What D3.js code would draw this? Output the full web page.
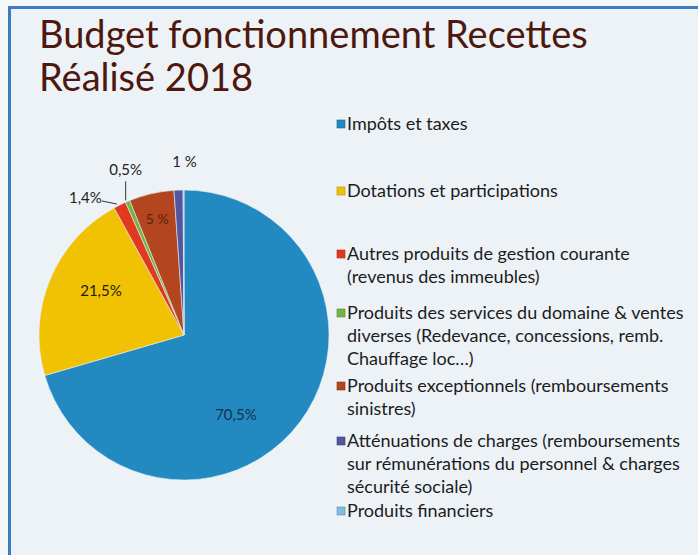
<!DOCTYPE html>
<html>
<head>
<meta charset="utf-8">
<script src="https://cdn.jsdelivr.net/npm/d3@7"></script>
<style>
  body { margin: 0; background: #f4f6f8; }
  svg { display: block; }
</style>
</head>
<body>
<div id="chart"></div>
<script>
// data
const categories = [
    "Impôts et taxes",
    "Dotations et participations",
    "Autres produits de gestion courante",
    "Produits des services du domaine & ventes",
    "Produits exceptionnels",
    "Atténuations de charges",
    "Produits financiers"
];
const values = [70.5, 21.5, 1.4, 0.5, 5, 1, 0.1];
const sliceLabels = ["70,5%", "21,5%", "1,4%", "0,5%", "5 %", "1 %", ""];
const colors = ["#2389c1", "#f1c103", "#e1391f", "#72b443", "#b3451f", "#55559f", "#7cbde0"];
const legendLines = [
    ["Impôts et taxes"],
    ["Dotations et participations"],
    ["Autres produits de gestion courante", "(revenus des immeubles)"],
    ["Produits des services du domaine & ventes", "diverses (Redevance, concessions, remb.", "Chauffage loc…)"],
    ["Produits exceptionnels (remboursements", "sinistres)"],
    ["Atténuations de charges (remboursements", "sur rémunérations du personnel & charges", "sécurité sociale)"],
    ["Produits financiers"]
];
const legendTop = [130, 197, 260, 319, 392, 447, 517];

const W = 698, H = 555;
const svg = d3.select("#chart").append("svg")
    .attr("width", W)
    .attr("height", H);

// frame + background
svg.append("rect").attr("x", 9).attr("y", 7).attr("width", W - 9).attr("height", H - 7)
    .attr("fill", "#edf2f7");
svg.append("line").attr("x1", 8).attr("x2", W).attr("y1", 7.5).attr("y2", 7.5)
    .attr("stroke", "#3b7cc3").attr("stroke-width", 3);
svg.append("line").attr("x1", 9.5).attr("x2", 9.5).attr("y1", 6).attr("y2", H)
    .attr("stroke", "#3b7cc3").attr("stroke-width", 3);

// title
const title = svg.append("text")
    .attr("font-family", "Lato, 'Open Sans', sans-serif")
    .attr("font-size", 38)
    .attr("fill", "#4e180e");
title.append("tspan").attr("x", 39).attr("y", 48).text("Budget fonctionnement Recettes");
title.append("tspan").attr("x", 39).attr("y", 91).text("Réalisé 2018");

// pie
const cx = 184, cy = 335, r = 145;
const pie = d3.pie().sort(null).value(d => d);
const arcs = pie(values);
const arc = d3.arc().innerRadius(0).outerRadius(r);

const g = svg.append("g").attr("transform", `translate(${cx},${cy})`);
g.selectAll("path")
    .data(arcs)
    .join("path")
    .attr("d", arc)
    .attr("fill", (d, i) => colors[i])
    .attr("stroke", "#e8eef4")
    .attr("stroke-width", 0.6);

// slice labels (inside for big ones, outside with leaders for small ones)
const labelFont = "Lato, 'Open Sans', sans-serif";
const inner = d3.arc().innerRadius(r * 0.62).outerRadius(r * 0.62);
const innerSmall = d3.arc().innerRadius(r * 0.82).outerRadius(r * 0.82);

// 70,5%
g.append("text")
    .attr("transform", () => {
        const c = inner.centroid(arcs[0]);
        return `translate(${c[0] - 20},${c[1] + 26})`;
    })
    .attr("text-anchor", "middle").attr("dy", "0.35em")
    .attr("font-family", labelFont).attr("font-size", 15)
    .attr("fill", "#17304d").text(sliceLabels[0]);

// 21,5%
g.append("text")
    .attr("transform", () => {
        const c = inner.centroid(arcs[1]);
        return `translate(${c[0]},${c[1] - 10})`;
    })
    .attr("text-anchor", "middle").attr("dy", "0.35em")
    .attr("font-family", labelFont).attr("font-size", 15)
    .attr("fill", "#221d0c").text(sliceLabels[1]);

// 5 %
g.append("text")
    .attr("transform", () => {
        const c = innerSmall.centroid(arcs[4]);
        return `translate(${c[0]},${c[1]})`;
    })
    .attr("text-anchor", "middle").attr("dy", "0.35em")
    .attr("font-family", labelFont).attr("font-size", 14)
    .attr("fill", "#5e220c").text(sliceLabels[4]);

// 1 % above the pie
const out = d3.arc().innerRadius(r + 28).outerRadius(r + 28);
g.append("text")
    .attr("transform", () => {
        const c = out.centroid(arcs[5]);
        return `translate(${c[0] + 7},${c[1]})`;
    })
    .attr("text-anchor", "middle").attr("dy", "0.35em")
    .attr("font-family", labelFont).attr("font-size", 15)
    .attr("fill", "#222").text(sliceLabels[5]);

// 0,5% with vertical leader
const edge = d3.arc().innerRadius(r).outerRadius(r);
{
    const c = edge.centroid(arcs[3]);
    const lx = c[0] - 2;
    g.append("line").attr("x1", lx).attr("x2", lx).attr("y1", c[1] - 1).attr("y2", c[1] - 20)
        .attr("stroke", "#333").attr("stroke-width", 1);
    g.append("text").attr("x", lx).attr("y", c[1] - 26)
        .attr("text-anchor", "middle")
        .attr("font-family", labelFont).attr("font-size", 15)
        .attr("fill", "#222").text(sliceLabels[3]);
}
// 1,4% with short leader
{
    const c = edge.centroid(arcs[2]);
    g.append("polyline")
        .attr("points", `${c[0] - 3},${c[1] - 1} ${c[0] - 18},${c[1] - 4}`)
        .attr("fill", "none").attr("stroke", "#333").attr("stroke-width", 1);
    g.append("text").attr("x", c[0] - 18).attr("y", c[1] - 2)
        .attr("text-anchor", "end")
        .attr("font-family", labelFont).attr("font-size", 15)
        .attr("fill", "#222").text(sliceLabels[2]);
}

// legend
const legend = svg.append("g");
legendLines.forEach((lines, i) => {
    const y0 = legendTop[i];
    legend.append("rect")
        .attr("x", 337).attr("y", y0 - 10)
        .attr("width", 8).attr("height", 8)
        .attr("fill", colors[i])
        .attr("stroke", d3.color(colors[i]).darker(0.8)).attr("stroke-width", 0.6);
    const t = legend.append("text")
        .attr("font-family", labelFont).attr("font-size", 18)
        .attr("fill", "#1c1c1c");
    lines.forEach((s, j) => {
        t.append("tspan").attr("x", 347).attr("y", y0 + j * 23).text(s);
    });
});
</script>
</body>
</html>
